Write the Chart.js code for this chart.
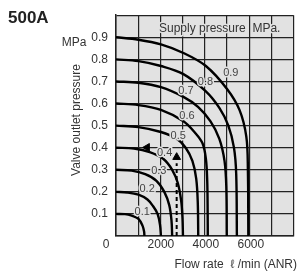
<!DOCTYPE html>
<html>
<head>
<meta charset="utf-8">
<script src="https://cdn.jsdelivr.net/npm/chart.js@4"></script>
<style>
  html, body { margin: 0; padding: 0; background: #fff; overflow: hidden; }
  #chart { display: block; }
</style>
</head>
<body>
<canvas id="chart" width="299" height="273"></canvas>
<script>
// supply pressure curves: flow (l/min ANR) vs outlet pressure (MPa)
var flow01 = [0, 400, 700, 1000, 1180, 1250, 1265];
var out01  = [0.1, 0.099, 0.092, 0.078, 0.047, 0.02, 0];
var flow02 = [0, 500, 1000, 1400, 1650, 1850, 1960, 2000];
var out02  = [0.2, 0.197, 0.187, 0.165, 0.135, 0.1, 0.05, 0];
var flow03 = [0, 700, 1300, 1800, 2150, 2370, 2470, 2500];
var out03  = [0.3, 0.296, 0.28, 0.25, 0.2, 0.14, 0.07, 0];
var flow04 = [0, 800, 1500, 2100, 2500, 2750, 2900, 2960, 2980];
var out04  = [0.4, 0.396, 0.38, 0.35, 0.3, 0.24, 0.16, 0.08, 0];
var flow05 = [0, 1000, 2000, 2700, 3100, 3400, 3570, 3640, 3660];
var out05  = [0.5, 0.493, 0.471, 0.44, 0.4, 0.34, 0.26, 0.15, 0];
var flow06 = [0, 1000, 2000, 3000, 3500, 3850, 4000, 4060, 4080, 4085];
var out06  = [0.6, 0.593, 0.571, 0.52, 0.47, 0.42, 0.35, 0.25, 0.1, 0];
var flow07 = [0, 1000, 2000, 3000, 3650, 4200, 4600, 4830, 4910, 4930];
var out07  = [0.7, 0.694, 0.674, 0.63, 0.585, 0.52, 0.44, 0.34, 0.22, 0];
var flow08 = [0, 1000, 2000, 3000, 4000, 4600, 5000, 5250, 5350, 5380];
var out08  = [0.8, 0.792, 0.77, 0.733, 0.655, 0.58, 0.5, 0.4, 0.28, 0];
var flow09 = [0, 1000, 2000, 3000, 4000, 4950, 5500, 5800, 5870, 5890];
var out09  = [0.9, 0.889, 0.868, 0.829, 0.77, 0.665, 0.57, 0.45, 0.3, 0];

var curveLabels = ["0.1", "0.2", "0.3", "0.4", "0.5", "0.6", "0.7", "0.8", "0.9"];
var labelFlow   = [1169, 1385, 1905, 2165, 2770, 3160, 3115, 3980, 5110];
var labelOut    = [0.109, 0.212, 0.295, 0.375, 0.454, 0.543, 0.658, 0.698, 0.738];

// dashed example line and arrows
var dashFlow = [2700, 2700];
var dashOut  = [0, 0.33];
var arrowUpFlow = [2700];
var arrowUpOut  = [0.357];
var arrowLeftFlow = [1385];
var arrowLeftOut  = [0.401];

var yTicks = [0.1, 0.2, 0.3, 0.4, 0.5, 0.6, 0.7, 0.8, 0.9];
var xTicks = [2000, 4000, 6000];

Chart.defaults.font.family = "'Liberation Sans', Arial, sans-serif";

function pts(xs, ys) {
    var out = [];
    xs.forEach(function(x, i) { out.push({x: x, y: ys[i]}); });
    return out;
}

var curves = [
    [flow01, out01], [flow02, out02], [flow03, out03],
    [flow04, out04], [flow05, out05], [flow06, out06],
    [flow07, out07], [flow08, out08], [flow09, out09]
];

var datasets = curves.map(function(c) {
    return {
        data: pts(c[0], c[1]),
        showLine: true,
        borderColor: "#000",
        borderWidth: 2.4,
        pointRadius: 0,
        tension: 0.35,
        fill: false
    };
});

datasets.push({
    data: pts(dashFlow, dashOut),
    showLine: true,
    borderColor: "#000",
    borderWidth: 2,
    borderDash: [4, 3],
    pointRadius: 0
});
datasets.push({
    data: pts(arrowUpFlow, arrowUpOut),
    pointStyle: "triangle",
    pointRadius: 4.5,
    rotation: 0,
    backgroundColor: "#000",
    borderColor: "#000"
});
datasets.push({
    data: pts(arrowLeftFlow, arrowLeftOut),
    pointStyle: "triangle",
    pointRadius: 4.5,
    rotation: -90,
    backgroundColor: "#000",
    borderColor: "#000"
});

var plotBg = "#e2e2e2";

var decor = {
    id: "decor",
    beforeDraw: function(chart) {
        var a = chart.chartArea, ctx = chart.ctx;
        ctx.save();
        ctx.fillStyle = plotBg;
        ctx.fillRect(a.left, a.top, a.right - a.left, a.bottom - a.top);
        ctx.restore();
    },
    afterDatasetsDraw: function(chart) {
        var ctx = chart.ctx, xs = chart.scales.x, ys = chart.scales.y;
        ctx.save();
        ctx.font = "11px 'Liberation Sans', Arial, sans-serif";
        ctx.textAlign = "center";
        ctx.textBaseline = "middle";
        ctx.lineJoin = "round";
        curveLabels.forEach(function(t, i) {
            var px = xs.getPixelForValue(labelFlow[i]);
            var py = ys.getPixelForValue(labelOut[i]);
            ctx.strokeStyle = plotBg;
            ctx.lineWidth = 3;
            ctx.strokeText(t, px, py);
            ctx.fillStyle = "#444";
            ctx.fillText(t, px, py);
        });
        // supply pressure note
        ctx.textAlign = "left";
        ctx.font = "12px 'Liberation Sans', Arial, sans-serif";
        ctx.strokeStyle = plotBg;
        ctx.lineWidth = 3;
        ctx.strokeText("Supply pressure  MPa.", 159, 29);
        ctx.fillStyle = "#333";
        ctx.fillText("Supply pressure  MPa.", 159, 29);
        ctx.restore();
    },
    afterDraw: function(chart) {
        var ctx = chart.ctx, xs = chart.scales.x;
        ctx.save();
        ctx.fillStyle = "#222";
        ctx.textBaseline = "middle";
        ctx.font = "bold 17px 'Liberation Sans', Arial, sans-serif";
        ctx.textAlign = "left";
        ctx.fillText("500A", 8, 18);
        ctx.fillStyle = "#333";
        ctx.font = "12px 'Liberation Sans', Arial, sans-serif";
        ctx.textAlign = "center";
        ctx.fillText("MPa", 74, 43);
        ctx.fillText("0", xs.getPixelForValue(0) - 10, 245);
        xTicks.forEach(function(v) {
            ctx.fillText(String(v), xs.getPixelForValue(v), 245);
        });
        ctx.textAlign = "right";
        ctx.fillText("Flow rate  \u2113 /min (ANR)", 297, 265);
        ctx.translate(77, 120);
        ctx.rotate(-Math.PI / 2);
        ctx.textAlign = "center";
        ctx.fillText("Valve outlet pressure", 0, 0);
        ctx.restore();
    }
};

var config = {
    type: "scatter",
    data: { datasets: datasets },
    options: {
        responsive: false,
        animation: false,
        layout: { padding: { top: 10, right: 1, left: 0, bottom: 0 } },
        plugins: {
            legend: { display: false },
            tooltip: { enabled: false }
        },
        scales: {
            x: {
                type: "linear",
                min: 0,
                max: 7900,
                afterFit: function(s) { s.height = 37; },
                ticks: {
                    stepSize: 1000,
                    display: false
                },
                grid: { color: "#222", lineWidth: 1.2, drawTicks: false },
                border: { color: "#222", width: 1.5 }
            },
            y: {
                type: "linear",
                min: 0,
                max: 1,
                afterFit: function(s) { s.width = 116; },
                ticks: {
                    stepSize: 0.1,
                    padding: 8,
                    color: "#333",
                    font: { size: 12 },
                    autoSkip: false,
                    callback: function(v) {
                        var r = Math.round(v * 10) / 10;
                        return yTicks.indexOf(r) >= 0 ? r.toFixed(1) : "";
                    }
                },
                grid: { color: "#222", lineWidth: 1.2, drawTicks: false },
                border: { color: "#222", width: 1.5 }
            }
        }
    },
    plugins: [decor]
};

var ctx = document.getElementById("chart");
window.myChart = new Chart(ctx, config);
</script>
</body>
</html>
